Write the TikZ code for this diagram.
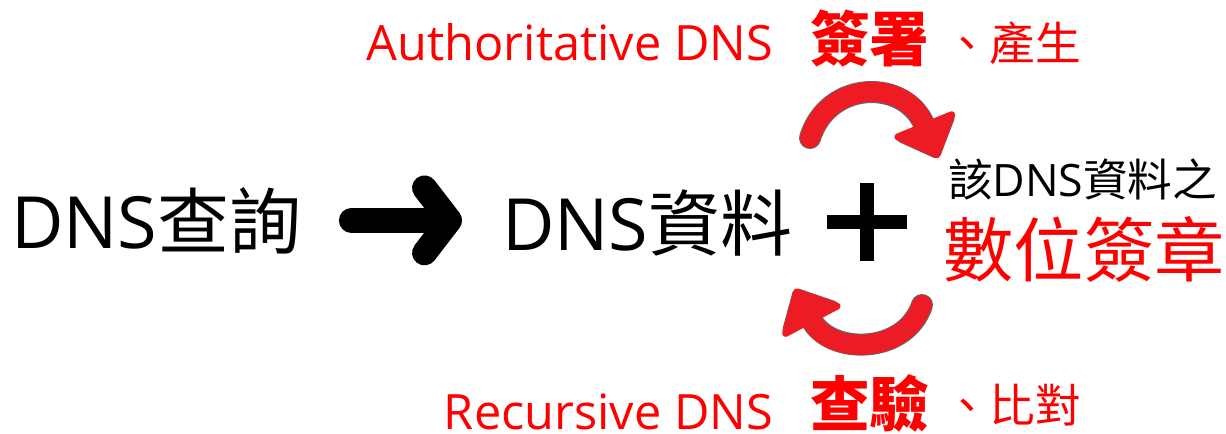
\documentclass[tikz,border=0pt]{standalone}
\usepackage{fontspec}
\setmainfont{Open Sans}
\newfontfamily\cjk{Noto Sans CJK TC}
\usetikzlibrary{arrows.meta}
\usetikzlibrary{positioning}
\usetikzlibrary{calc}

\definecolor{signred}{RGB}{255,0,0}
\definecolor{arrowred}{RGB}{237,28,36}

\begin{document}
\begin{tikzpicture}[
		x=0.02cm, y=-0.02cm,
		every node/.append style={inner sep=0pt, outer sep=0pt},
		big_text/.style={
			font=\fontsize{41}{45}\selectfont},
		mid_text/.style={
			font=\fontsize{25.4}{28}\selectfont},
		red_big/.style={
			text=signred,
			font=\fontsize{40}{44}\selectfont},
		red_dns/.style={
			text=signred,
			font=\fontsize{27.7}{31}\selectfont},
		red_bold/.style={
			text=signred,
			font=\fontsize{34}{38}\selectfont\bfseries},
		red_small/.style={
			text=signred,
			font=\fontsize{26}{29}\selectfont},
		query_arrow/.style={
			draw=black,
			line width=0.5cm,
			line cap=round,
			-{Straight Barb[round, length=0.5cm, width=1.3cm]}},
		sign_arrow/.style={
			draw=arrowred,
			line width=0.4cm,
			line cap=round,
			-{Triangle[round, length=0.8cm, width=1.45cm, line width=4pt]},
			preaction={
				draw=black!60,
				line width=0.44cm,
				line cap=round,
				-{Triangle[round, length=0.8cm, width=1.45cm, line width=6pt]}}},
		plus_bar/.style={
			draw=black,
			line width=0.27cm},
		]

		\useasboundingbox (0,0) rectangle (1226,433);

		%Query and data
		\node (query)[big_text, anchor=base west] at (11,248) {DNS{\cjk 查詢}};
		\node (data)[big_text, anchor=base west] at (502,250) {DNS{\cjk 資料}};
		\draw[query_arrow, shorten <=1.0cm, shorten >=0.8cm] (query.east) -- (query.east -| data.west);

		%Plus
		\node (plus)[minimum width=1.6cm, minimum height=1.56cm] at (867,222) {};
		\draw[plus_bar] (plus.west) -- (plus.east);
		\draw[plus_bar] (plus.north) -- (plus.south);

		%Signature
		\node (sigpre)[mid_text, anchor=base west] at (948,196) {{\cjk 該}DNS{\cjk 資料之}};
		\node (sig)[red_big] at (1084,249) {\cjk 數位簽章};

		%Authoritative side
		\node (auth)[red_dns, anchor=base east] at (773,60) {Authoritative DNS};
		\node (sign)[red_bold, anchor=base west] at (810,61) {\cjk 簽署};
		\node (gen)[red_small, anchor=base west] at (944,60) {\cjk 、產生};

		%Recursive side
		\node (rec)[red_dns, anchor=base east] at (773,429) {Recursive DNS};
		\node (verify)[red_bold, anchor=base west] at (810,426) {\cjk 查驗};
		\node (comp)[red_small, anchor=base west] at (944,422) {\cjk 、比對};

		%Curved arrows
		\coordinate (top_tail) at (810,138);
		\coordinate (top_head) at (938,158);
		\coordinate (bot_tail) at (922,305);
		\coordinate (bot_head) at (795,289);
		\draw[sign_arrow] (top_tail) .. controls (828,80) and (905,78) .. (top_head);
		\draw[sign_arrow] (bot_tail) .. controls (905,355) and (830,355) .. (bot_head);

	\end{tikzpicture}
\end{document}
